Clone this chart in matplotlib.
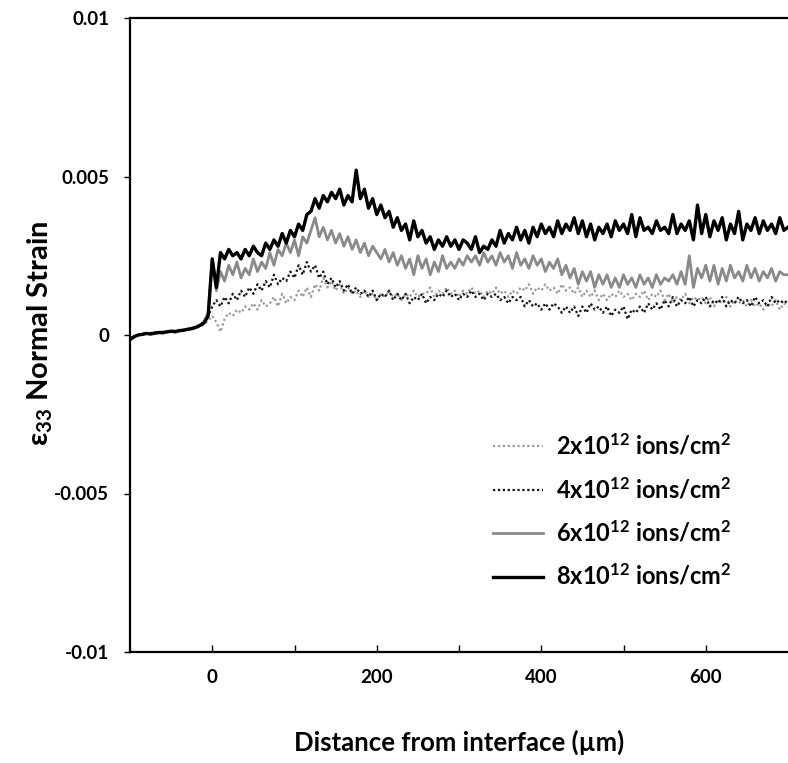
import numpy as np
import matplotlib
matplotlib.use("Agg")
import matplotlib.pyplot as plt

# Distance from interface (µm), 5 µm sampling
distance = np.arange(-100, 705, 5)

# Strain values, read in units of 1e-3
strain_2e12_milli = [
    -0.10, -0.06, 0.00, 0.03, 0.04, 0.05, 0.07, 0.06, 0.09, 0.10,
    0.10, 0.13, 0.13, 0.15, 0.17, 0.19, 0.22, 0.26, 0.33, 0.45,
    0.6, 0.4, 0.1, 0.5, 0.7, 0.6, 0.8, 0.7, 0.9, 0.8,
    1.0, 0.8, 1.1, 0.9, 1.0, 1.2, 0.9, 1.3, 1.0, 1.2,
    1.1, 1.4, 1.2, 1.5, 1.2, 1.6, 1.4, 1.8, 1.5, 1.7,
    1.4, 1.6, 1.3, 1.5, 1.3, 1.4, 1.2, 1.4, 1.2, 1.3,
    1.1, 1.3, 1.2, 1.4, 1.2, 1.3, 1.1, 1.3, 1.2, 1.4,
    1.2, 1.3, 1.3, 1.5, 1.2, 1.4, 1.3, 1.5, 1.3, 1.4,
    1.2, 1.4, 1.3, 1.5, 1.3, 1.4, 1.2, 1.4, 1.3, 1.5,
    1.3, 1.4, 1.2, 1.4, 1.3, 1.5, 1.4, 1.6, 1.3, 1.5,
    1.4, 1.6, 1.4, 1.5, 1.3, 1.6, 1.4, 1.5, 1.3, 1.5,
    1.2, 1.4, 1.2, 1.4, 1.1, 1.3, 1.1, 1.3, 1.2, 1.4,
    1.2, 1.3, 1.1, 1.3, 1.2, 1.4, 1.1, 1.3, 1.2, 1.4,
    1.1, 1.3, 1.0, 1.2, 1.1, 1.3, 1.0, 1.2, 1.1, 1.2,
    1.0, 1.2, 0.9, 1.1, 1.0, 1.2, 0.9, 1.1, 1.0, 1.1,
    0.9, 1.1, 0.9, 1.0, 0.8, 1.0, 0.9, 1.1, 0.8, 1.0,
    0.9,
]

strain_4e12_milli = [
    -0.12, -0.04, 0.01, 0.02, 0.05, 0.04, 0.07, 0.06, 0.09, 0.10,
    0.11, 0.12, 0.14, 0.15, 0.17, 0.21, 0.24, 0.30, 0.40, 0.60,
    0.9, 1.1, 0.9, 1.2, 1.0, 1.3, 1.1, 1.4, 1.2, 1.5,
    1.3, 1.6, 1.4, 1.7, 1.5, 1.9, 1.6, 1.8, 1.7, 2.0,
    1.8, 2.2, 1.9, 2.3, 2.0, 2.2, 1.8, 2.0, 1.6, 1.8,
    1.5, 1.7, 1.4, 1.6, 1.3, 1.5, 1.3, 1.4, 1.2, 1.4,
    1.1, 1.3, 1.2, 1.4, 1.1, 1.3, 1.1, 1.3, 1.0, 1.2,
    1.1, 1.3, 1.0, 1.2, 1.1, 1.3, 1.2, 1.4, 1.2, 1.3,
    1.1, 1.3, 1.2, 1.4, 1.2, 1.3, 1.1, 1.3, 1.2, 1.3,
    1.1, 1.2, 1.0, 1.2, 1.1, 1.2, 0.9, 1.1, 0.9, 1.0,
    0.8, 1.0, 0.8, 1.0, 0.9, 0.7, 0.9, 0.7, 0.9, 0.6,
    0.9, 0.7, 1.0, 0.8, 0.9, 0.7, 0.9, 0.6, 0.8, 0.7,
    0.9, 0.5, 0.8, 0.7, 0.9, 0.7, 1.0, 0.8, 1.0, 0.8,
    1.1, 0.9, 1.2, 0.9, 1.1, 1.0, 1.2, 0.9, 1.1, 1.0,
    1.2, 0.9, 1.1, 1.0, 1.2, 0.9, 1.1, 1.0, 1.2, 1.0,
    1.1, 0.9, 1.2, 1.0, 1.1, 0.9, 1.2, 1.0, 1.1, 1.0,
    1.1,
]

strain_6e12_milli = [
    -0.10, -0.08, 0.00, 0.03, 0.04, 0.06, 0.05, 0.08, 0.10, 0.09,
    0.12, 0.13, 0.12, 0.16, 0.18, 0.22, 0.25, 0.32, 0.42, 0.70,
    2.4, 1.4, 2.0, 1.7, 2.2, 1.9, 2.3, 1.8, 2.1, 1.9,
    2.4, 2.0, 2.3, 2.1, 2.6, 2.2, 2.7, 2.5, 2.9, 2.6,
    3.0, 2.5, 3.1, 2.9, 3.3, 3.7, 3.1, 3.4, 3.0, 3.3,
    2.9, 3.2, 2.8, 3.1, 2.7, 3.0, 2.6, 2.9, 2.5, 2.8,
    2.6, 2.4, 2.7, 2.3, 2.6, 2.2, 2.5, 2.1, 2.4, 1.9,
    2.5, 2.1, 2.4, 1.9, 2.3, 2.0, 2.5, 2.1, 2.3, 2.1,
    2.4, 2.2, 2.5, 2.3, 2.5, 2.2, 2.6, 2.3, 2.5, 2.2,
    2.6, 2.3, 2.5, 2.1, 2.6, 2.2, 2.4, 2.1, 2.5, 2.2,
    2.4, 2.0, 2.3, 2.1, 2.4, 1.9, 2.2, 1.8, 2.1, 1.6,
    2.0, 1.7, 2.0, 1.5, 1.9, 1.6, 1.9, 1.5, 1.8, 1.5,
    1.9, 1.6, 1.8, 1.5, 1.9, 1.6, 1.8, 1.5, 1.9, 1.6,
    1.8, 1.7, 1.9, 1.6, 2.0, 1.6, 2.5, 1.5, 2.1, 1.8,
    2.2, 1.7, 2.2, 1.6, 2.1, 1.7, 2.2, 1.8, 2.0, 1.7,
    2.2, 1.8, 2.1, 1.7, 2.0, 1.8, 2.1, 1.7, 2.0, 1.9,
    1.9,
]

strain_8e12_milli = [
    -0.15, -0.05, 0.00, 0.02, 0.05, 0.03, 0.06, 0.08, 0.07, 0.10,
    0.12, 0.10, 0.14, 0.15, 0.18, 0.20, 0.24, 0.30, 0.38, 0.60,
    2.4, 1.5, 2.6, 2.4, 2.7, 2.5, 2.6, 2.4, 2.7, 2.5,
    2.8, 2.6, 2.5, 2.9, 2.7, 3.0, 2.8, 3.2, 2.9, 3.3,
    3.1, 3.5, 3.3, 3.8, 3.9, 4.3, 4.0, 4.4, 4.2, 4.5,
    4.3, 4.6, 4.1, 4.4, 4.2, 5.2, 4.3, 4.6, 4.0, 4.3,
    3.8, 4.1, 3.7, 3.9, 3.4, 3.7, 3.3, 3.5, 3.0, 3.6,
    3.1, 3.3, 2.9, 3.1, 2.7, 3.0, 2.8, 3.1, 2.8, 3.0,
    2.7, 3.0, 2.9, 2.7, 3.1, 2.6, 2.8, 2.7, 3.0, 2.8,
    3.3, 2.9, 3.2, 3.0, 3.4, 3.0, 3.3, 2.9, 3.4, 3.1,
    3.5, 3.2, 3.4, 3.1, 3.6, 3.2, 3.5, 3.3, 3.7, 3.2,
    3.6, 3.1, 3.5, 3.0, 3.4, 3.2, 3.5, 3.1, 3.6, 3.3,
    3.5, 3.2, 3.8, 3.1, 3.7, 3.3, 3.4, 3.2, 3.6, 3.3,
    3.4, 3.2, 3.8, 3.2, 3.5, 3.3, 3.6, 3.0, 4.1, 3.2,
    3.8, 3.1, 3.6, 3.3, 3.7, 3.0, 3.5, 3.2, 3.9, 3.0,
    3.5, 3.3, 3.7, 3.2, 3.6, 3.3, 3.5, 3.2, 3.7, 3.3,
    3.4,
]

legend_labels = [r"2x10$^{\mathbf{12}}$ ions/cm$^{\mathbf{2}}$",
                 r"4x10$^{\mathbf{12}}$ ions/cm$^{\mathbf{2}}$",
                 r"6x10$^{\mathbf{12}}$ ions/cm$^{\mathbf{2}}$",
                 r"8x10$^{\mathbf{12}}$ ions/cm$^{\mathbf{2}}$"]
x_ticks = [0, 200, 400, 600]
y_ticks = [-0.01, -0.005, 0, 0.005, 0.01]
y_ticklabels = ["-0.01", "-0.005", "0", "0.005", "0.01"]

plt.rcParams['font.family'] = ['Lato', 'DejaVu Sans']
plt.rcParams['mathtext.fontset'] = 'custom'
plt.rcParams['mathtext.rm'] = 'Lato:bold'
plt.rcParams['mathtext.it'] = 'Lato:bold'
plt.rcParams['mathtext.bf'] = 'Lato:bold'
plt.rcParams['mathtext.default'] = 'bf'

W, H = 788, 763
fig = plt.figure(figsize=(W / 100, H / 100), dpi=100)
ax = fig.add_axes([130 / W, 1 - 652 / H, (W - 130) / W, (652 - 18) / H])

styles = [
    dict(color='#9a9a9a', lw=1.6, ls=(0, (1, 1.2))),
    dict(color='#111111', lw=1.6, ls=(0, (1, 1.2))),
    dict(color='#8a8a8a', lw=2.0, ls='-'),
    dict(color='#000000', lw=2.4, ls='-'),
]
series = [strain_2e12_milli, strain_4e12_milli, strain_6e12_milli, strain_8e12_milli]
for vals, st, lab in zip(series, styles, legend_labels):
    ax.plot(distance, np.array(vals) * 1e-3, label=lab, **st)

ax.set_xlim(-100, 700)
ax.set_ylim(-0.01, 0.01)
ax.set_xticks(x_ticks)
ax.set_xticks(np.arange(0, 700, 100), minor=True)
ax.set_yticks(y_ticks)
ax.set_yticklabels(y_ticklabels)
ax.tick_params(axis='x', which='both', direction='in', length=5, width=1,
               pad=12, labelsize=13.5)
ax.tick_params(axis='y', direction='out', length=4, width=1, pad=11,
               labelsize=13.5)
for lbl in ax.get_xticklabels() + ax.get_yticklabels():
    lbl.set_fontweight('bold')

for s in ['left', 'bottom', 'top']:
    ax.spines[s].set_linewidth(1.6)
ax.spines['right'].set_visible(False)

fig.text((130 + W) / 2 / W, 1 - 742 / H, "Distance from interface (µm)",
         ha='center', va='center', fontsize=18.5, fontweight='bold')
fig.text(40 / W, 1 - 333 / H, r"$\mathbf{\varepsilon}_{\mathbf{33}}$ Normal Strain",
         ha='center', va='center', rotation=90, fontsize=21, fontweight='bold')

leg = ax.legend(loc='upper left', bbox_to_anchor=(493 / W, 1 - 433 / H),
                bbox_transform=fig.transFigure, frameon=False, borderpad=0,
                borderaxespad=0, handlelength=2.1, handletextpad=0.55,
                labelspacing=0.75, prop={'family': ['Lato', 'DejaVu Sans'],
                                         'weight': 'bold', 'size': 17})

fig.savefig("out.png", dpi=100)
